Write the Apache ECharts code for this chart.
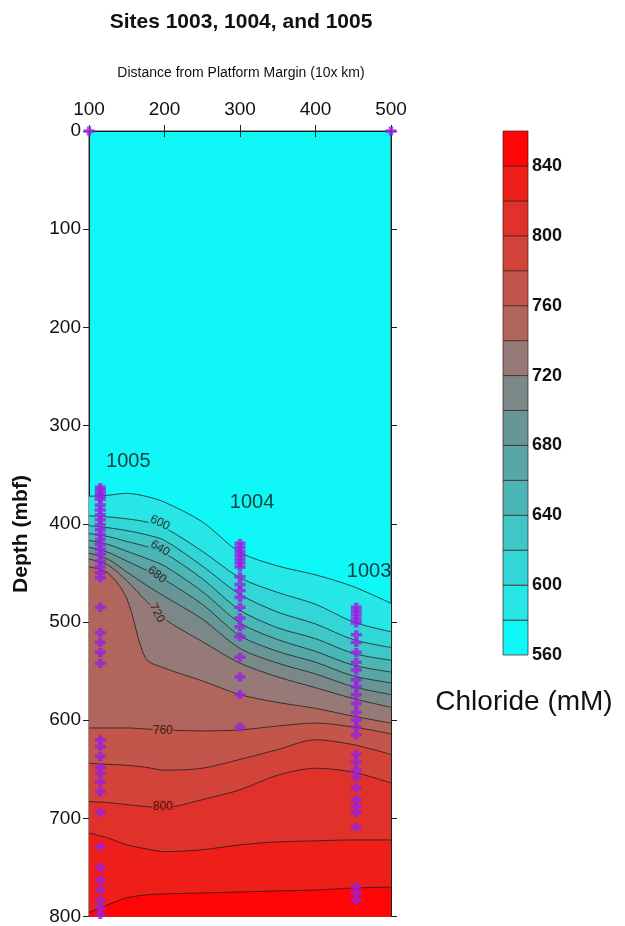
<!DOCTYPE html>
<html><head><meta charset="utf-8">
<script src="https://cdn.jsdelivr.net/npm/echarts@6/dist/echarts.min.js"></script>
<style>html,body{margin:0;padding:0;background:#fff}#c{width:625px;height:926px}</style>
</head><body><div id="c"></div>
<script>
// ---------------- data ----------------
const xTicks = [100, 200, 300, 400, 500];
const depthTicks = [0, 100, 200, 300, 400, 500, 600, 700, 800];
const distances = [100, 125, 150, 175, 200, 250, 300, 350, 400, 450, 500];
const levels = [560, 580, 600, 620, 640, 660, 680, 700, 720, 740, 760, 780, 800, 820, 840, 860];
const contourLevels = [580, 600, 620, 640, 660, 680, 700, 720, 740, 760, 780, 800, 820, 840];
const depth580 = [372, 371, 369, 372, 378, 398, 429, 443, 452, 464, 481];
const depth600 = [392, 393, 395, 398, 404, 428, 455, 470, 482, 500, 510];
const depth620 = [402, 404, 407, 411, 417, 443, 472, 490, 502, 518, 526];
const depth640 = [410, 413, 418, 423, 430, 456, 488, 506, 517, 532, 539];
const depth660 = [417, 421, 428, 435, 443, 469, 501, 518, 530, 544, 551];
const depth680 = [424, 429, 438, 447, 457, 482, 514, 530, 541, 555, 562];
const depth700 = [430, 436, 449, 462, 474, 497, 527, 542, 553, 566, 574];
const depth720 = [436, 442, 458, 478, 497, 520, 542, 556, 567, 578, 587];
const depth740 = [444, 450, 476, 537, 547, 560, 574, 582, 588, 596, 603];
const depth760 = [608, 608, 608, 609, 610, 611, 610, 606, 603, 607, 614];
const depth780 = [644, 645, 646, 648, 651, 649, 640, 630, 620, 625, 635];
const depth800 = [683, 684, 686, 688, 689, 681, 671, 656, 649, 653, 664];
const depth820 = [715, 720, 727, 731, 734, 732, 727, 724, 723, 722, 722];
const depth840 = [796, 788, 781, 778, 777, 776, 775, 774, 773, 771, 770];
const contourDepths = [depth580, depth600, depth620, depth640, depth660, depth680, depth700,
  depth720, depth740, depth760, depth780, depth800, depth820, depth840];

const siteNames = ['1005', '1004', '1003'];
const siteDistances = [115, 300, 454];
const site1005Depths = [363, 366, 369, 372, 375, 381, 386, 391, 396, 401, 406, 411, 416, 421, 426, 431, 438, 444, 450, 455,
  485, 511, 521, 531, 542, 620, 627, 637, 648, 654, 663, 673, 694, 729, 750, 763, 773, 784, 791, 798];
const site1004Depths = [420, 424, 428, 432, 436, 440, 444, 454, 462, 468, 475, 485, 496, 505, 515, 536, 556, 574, 607];
const site1003Depths = [485, 489, 493, 497, 501, 513, 521, 531, 541, 549, 559, 566, 574, 583, 592, 600, 607, 615,
  635, 643, 651, 658, 669, 681, 688, 694, 709, 770, 776, 783];
const siteDepths = [site1005Depths, site1004Depths, site1003Depths];
const siteLabelAnchors = [[152, 337], [316, 378], [471, 449]];
const surfaceMarks = [[100, 0], [500, 0]];

const contourLabelLevels = [600, 640, 680, 720, 760, 800];
const contourLabelAnchors = [[194, 399], [194, 425], [190, 452], [190, 491], [198, 611], [198, 688]];
const colorbarTicks = [560, 600, 640, 680, 720, 760, 800, 840];

// ---------------- styles ----------------
const bandColors = ['#10F7F7', '#26E6E6', '#33D6D6', '#3FC6C6', '#4BB6B6', '#58A6A6', '#679696', '#7A8888',
  '#967A78', '#B0665C', '#C2564A', '#D2443A', '#E0322A', '#EE1E18', '#FF0606'];
const contourLabelRotation = [-25, -30, -38, -62, 0, 0];
const FONT = 'Liberation Sans, Arial, sans-serif';
const purple = '#9A1FE0';
const plusPath = 'path://M3,0H7V3H10V7H7V10H3V7H0V3H3Z';

// ---------------- build ----------------
function bandColorOf(level) { return bandColors[levels.indexOf(level)]; }

const series = [];
contourLevels.forEach((lv, i) => {
  const pts = distances.map((x, k) => [x, contourDepths[i][k]]);
  series.push({
    type: 'line', xAxisIndex: 0, yAxisIndex: 0, data: pts, smooth: 0.3, symbol: 'none', silent: true,
    lineStyle: { opacity: 0 }, areaStyle: { origin: 'end', color: bandColorOf(lv), opacity: 1 }, z: 1
  });
});
contourLevels.forEach((lv, i) => {
  const pts = distances.map((x, k) => [x, contourDepths[i][k]]);
  series.push({
    type: 'line', xAxisIndex: 0, yAxisIndex: 0, data: pts, smooth: 0.3, symbol: 'none', silent: true,
    lineStyle: { color: 'rgba(25,25,25,0.75)', width: 1 }, z: 3
  });
});
// contour labels
series.push({
  type: 'scatter', xAxisIndex: 0, yAxisIndex: 0, symbolSize: 0, z: 4, silent: true,
  data: contourLabelLevels.map((lv, i) => ({
    value: contourLabelAnchors[i], name: String(lv),
    label: { rotate: contourLabelRotation[i], backgroundColor: bandColorOf(lv) }
  })),
  label: { show: true, position: 'inside', formatter: '{b}', fontFamily: FONT, fontSize: 12, color: '#111', padding: [0, 1] }
});
// samples
const samplePts = [];
siteDepths.forEach((arr, s) => arr.forEach(d => samplePts.push([siteDistances[s], d])));
surfaceMarks.forEach(p => samplePts.push(p));
series.push({
  type: 'scatter', xAxisIndex: 0, yAxisIndex: 0, data: samplePts, symbol: plusPath, symbolSize: [11, 9],
  itemStyle: { color: purple }, z: 6, silent: true, clip: false
});
// site labels
series.push({
  type: 'scatter', xAxisIndex: 0, yAxisIndex: 0, symbolSize: 0, z: 5, silent: true,
  data: siteNames.map((n, i) => ({ value: siteLabelAnchors[i], name: n })),
  label: { show: true, position: 'inside', formatter: '{b}', fontFamily: FONT, fontSize: 20, color: '#111' }
});
// colorbar
series.push({
  type: 'line', xAxisIndex: 2, yAxisIndex: 2, data: [], silent: true,
  markArea: {
    silent: true,
    data: bandColors.map((c, i) => [
      { yAxis: levels[i], itemStyle: { color: c, borderColor: 'rgba(70,25,25,0.7)', borderWidth: 1 } },
      { yAxis: levels[i + 1] }
    ])
  }
});

const axisLineStyle = { lineStyle: { color: '#222', width: 1 } };
const option = {
  animation: false,
  backgroundColor: '#fff',
  grid: [
    { left: 89, top: 131, width: 302, height: 786, show: true, backgroundColor: bandColors[0], borderColor: '#333', borderWidth: 1 },
    { left: 503, top: 131, width: 25, height: 524 }
  ],
  xAxis: [
    { type: 'value', gridIndex: 0, position: 'top', min: xTicks[0], max: xTicks[xTicks.length - 1], interval: 100,
      axisLine: axisLineStyle, axisTick: { show: true, length: 6, lineStyle: { color: '#222' } },
      splitLine: { show: false },
      axisLabel: { fontFamily: FONT, fontSize: 19, color: '#111', margin: 12 } },
    { type: 'value', gridIndex: 0, position: 'bottom', min: xTicks[0], max: xTicks[xTicks.length - 1], interval: 100,
      axisLine: axisLineStyle, axisTick: { show: true, length: 6, lineStyle: { color: '#222' } },
      splitLine: { show: false }, axisLabel: { show: false } },
    { type: 'value', gridIndex: 1, min: 0, max: 1, show: false }
  ],
  yAxis: [
    { type: 'value', gridIndex: 0, inverse: true, min: depthTicks[0], max: depthTicks[depthTicks.length - 1], interval: 100,
      axisLine: axisLineStyle, axisTick: { show: true, length: 6, lineStyle: { color: '#222' } },
      splitLine: { show: false },
      axisLabel: { fontFamily: FONT, fontSize: 19, color: '#111', margin: 8 } },
    { type: 'value', gridIndex: 0, position: 'right', inverse: true, min: depthTicks[0], max: depthTicks[depthTicks.length - 1], interval: 100,
      axisLine: axisLineStyle, axisTick: { show: true, length: 6, lineStyle: { color: '#222' } },
      splitLine: { show: false }, axisLabel: { show: false } },
    { type: 'value', gridIndex: 1, position: 'right', min: levels[0], max: levels[levels.length - 1], interval: 40,
      axisLine: { show: false }, axisTick: { show: false }, splitLine: { show: false },
      axisLabel: { fontFamily: FONT, fontSize: 18, fontWeight: 'bold', color: '#111', margin: 4, showMaxLabel: false,
        formatter: v => colorbarTicks.indexOf(v) >= 0 ? String(v) : '' } }
  ],
  graphic: [
    { type: 'text', x: 241, y: 22, silent: true,
      style: { text: 'Sites 1003, 1004, and 1005', font: 'bold 21px ' + FONT, fill: '#111', textAlign: 'center', textVerticalAlign: 'middle' } },
    { type: 'text', x: 241, y: 73, silent: true,
      style: { text: 'Distance from Platform Margin (10x km)', font: '14px ' + FONT, fill: '#111', textAlign: 'center', textVerticalAlign: 'middle' } },
    { type: 'text', x: 21, y: 534, rotation: Math.PI / 2, silent: true,
      style: { text: 'Depth (mbf)', font: 'bold 21px ' + FONT, fill: '#111', textAlign: 'center', textVerticalAlign: 'middle' } },
    { type: 'text', x: 524, y: 702, silent: true,
      style: { text: 'Chloride (mM)', font: '28px ' + FONT, fill: '#111', textAlign: 'center', textVerticalAlign: 'middle' } }
  ],
  series: series
};
const chart = echarts.init(document.getElementById('c'), null, { renderer: 'canvas' });
chart.setOption(option);
</script></body></html>
